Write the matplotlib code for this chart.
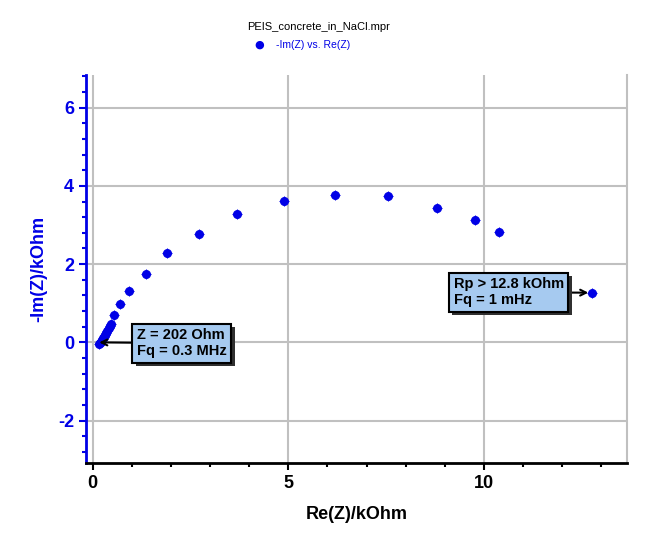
import numpy as np
import matplotlib
matplotlib.use('Agg')
import matplotlib.pyplot as plt
import matplotlib.patheffects as pe
from matplotlib.ticker import MultipleLocator

plt.rcParams['font.family'] = ['Liberation Sans', 'DejaVu Sans']
plt.rcParams['axes.unicode_minus'] = False

# Nyquist data, kOhm
re_z = [0.17, 0.19, 0.21, 0.23, 0.26, 0.29, 0.32, 0.35, 0.38, 0.41, 0.44,
        0.47, 0.56, 0.70, 0.94, 1.36, 1.91, 2.73, 3.70, 4.90, 6.20, 7.54,
        8.79, 9.78, 10.37, 12.77]
im_z = [-0.05, -0.02, 0.02, 0.06, 0.10, 0.15, 0.20, 0.25, 0.30, 0.36, 0.42,
        0.47, 0.70, 0.98, 1.31, 1.76, 2.28, 2.77, 3.28, 3.61, 3.76, 3.74,
        3.43, 3.13, 2.82, 1.27]

title = 'PEIS_concrete_in_NaCl.mpr'
series_label = '-Im(Z) vs. Re(Z)'
note_hf = 'Z = 202 Ohm\nFq = 0.3 MHz'
note_lf = 'Rp > 12.8 kOhm\nFq = 1 mHz'

blue = '#0000e6'
orange = '#ff8c1a'
grid_c = '#c0c0c0'

fig = plt.figure(figsize=(6.47, 5.42), dpi=100)
ax = fig.add_axes([0.133, 0.146, 0.836, 0.716])

ax.set_xlim(-0.166, 13.65)
ax.set_ylim(-3.08, 6.84)

ax.xaxis.set_major_locator(MultipleLocator(5))
ax.xaxis.set_minor_locator(MultipleLocator(1))
ax.yaxis.set_major_locator(MultipleLocator(2))
ax.yaxis.set_minor_locator(MultipleLocator(0.4))

ax.grid(True, which='major', color=grid_c, linewidth=1.5, zorder=0)
ax.axhline(0, color=orange, linewidth=1.3, zorder=1)
ax.axvline(0, color=orange, linewidth=1.3, zorder=1)

ax.plot(re_z, im_z, 'o', color=blue, markersize=5.5, zorder=3)
ax.plot(re_z, im_z, '+', color=blue, markersize=7, markeredgewidth=0.8, zorder=3)

ax.spines['top'].set_visible(False)
ax.spines['right'].set_color(grid_c)
ax.spines['right'].set_linewidth(1.5)
ax.spines['left'].set_color(blue)
ax.spines['left'].set_linewidth(2)
ax.spines['bottom'].set_color('black')
ax.spines['bottom'].set_linewidth(2)

ax.tick_params(axis='y', which='both', colors=blue, labelsize=13, width=1.5)
ax.tick_params(axis='y', which='major', length=5)
ax.tick_params(axis='y', which='minor', length=3)
ax.tick_params(axis='x', which='both', colors='black', labelsize=13, width=1.5)
ax.tick_params(axis='x', which='major', length=5)
ax.tick_params(axis='x', which='minor', length=3)
for lab in ax.get_xticklabels() + ax.get_yticklabels():
    lab.set_fontweight('bold')

ax.set_xlabel('Re(Z)/kOhm', fontsize=13, fontweight='bold', labelpad=10)
ax.set_ylabel('-Im(Z)/kOhm', fontsize=13, fontweight='bold', color=blue, labelpad=8)

shadow = [pe.SimplePatchShadow(offset=(2.5, -2.5), shadow_rgbFace='#303030', alpha=1.0), pe.Normal()]
box = dict(boxstyle='square,pad=0.32', facecolor='#a6caf0', edgecolor='black', linewidth=1.5)

a1 = ax.annotate(note_hf, xy=(re_z[0], 0.0), xytext=(1.13, -0.02),
                 fontsize=10.5, fontweight='bold', va='center', ha='left',
                 multialignment='left', bbox=box, linespacing=1.15,
                 arrowprops=dict(arrowstyle='->', color='black', lw=1.5, shrinkA=0, shrinkB=0),
                 zorder=5)
a1.get_bbox_patch().set_path_effects(shadow)

a2 = ax.annotate(note_lf, xy=(re_z[-1], im_z[-1]), xytext=(9.22, 1.28),
                 fontsize=10.5, fontweight='bold', va='center', ha='left',
                 multialignment='left', bbox=box, linespacing=1.15,
                 arrowprops=dict(arrowstyle='->', color='black', lw=1.5, shrinkA=0, shrinkB=3),
                 zorder=5)
a2.get_bbox_patch().set_path_effects(shadow)

fig.text(0.492, 0.950, title, fontsize=8, ha='center', va='center')
fig.text(0.400, 0.917, '\u25cf', fontsize=8, color=blue, ha='center', va='center', family='DejaVu Sans')
fig.text(0.427, 0.917, series_label, fontsize=7.5, color=blue, ha='left', va='center')

fig.savefig('out.png', dpi=100)
